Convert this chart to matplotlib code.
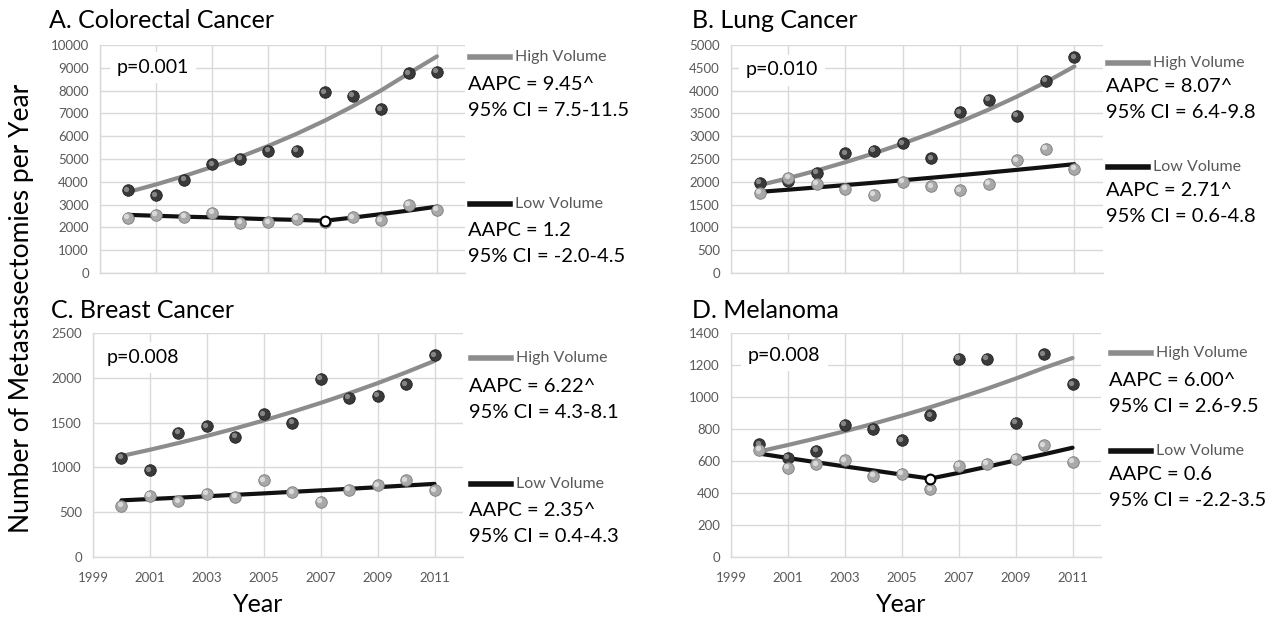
import matplotlib
matplotlib.use("Agg")
import matplotlib.pyplot as plt
import matplotlib.transforms as mtransforms
from matplotlib.lines import Line2D

plt.rcParams['font.family'] = ['Lato', 'DejaVu Sans']

W, H = 1266, 619

years = [2000, 2001, 2002, 2003, 2004, 2005, 2006, 2007, 2008, 2009, 2010, 2011]

# A. Colorectal
crc_high = [3620, 3400, 4090, 4770, 5020, 5360, 5360, 7930, 7780, 7180, 8760, 8820]
crc_low = [2410, 2550, 2450, 2630, 2190, 2220, 2380, 2250, 2440, 2310, 3000, 2770]
crc_high_fit = [3550, 3885, 4253, 4655, 5095, 5576, 6103, 6680, 7311, 8002, 8759, 9500]
crc_low_fit = [2550, 2510, 2470, 2440, 2400, 2360, 2330, 2290, 2430, 2580, 2740, 2910]
crc_joint = 2007

# B. Lung
lung_high = [1977, 2020, 2196, 2621, 2680, 2840, 2511, 3521, 3792, 3448, 4217, 4729]
lung_low = [1764, 2090, 1955, 1852, 1720, 2000, 1903, 1815, 1962, 2474, 2716, 2284]
lung_high_fit = [1925, 2080, 2248, 2430, 2626, 2838, 3067, 3315, 3582, 3871, 4184, 4530]
lung_low_fit = [1779, 1827, 1877, 1928, 1980, 2034, 2089, 2145, 2203, 2263, 2324, 2387]

# C. Breast
brc_high = [1105, 967, 1384, 1458, 1339, 1592, 1496, 1990, 1775, 1797, 1927, 2251]
brc_low = [569, 681, 621, 707, 670, 856, 722, 614, 751, 800, 856, 744]
brc_high_fit = [1127, 1197, 1272, 1351, 1435, 1524, 1619, 1720, 1827, 1940, 2061, 2189]
brc_low_fit = [632, 647, 662, 678, 694, 710, 727, 744, 761, 779, 798, 816]

# D. Melanoma
mel_high = [704, 619, 663, 827, 802, 729, 885, 1240, 1240, 840, 1267, 1079]
mel_low = [671, 558, 579, 604, 506, 521, 423, 569, 583, 615, 698, 594]
mel_high_fit = [660, 700, 742, 786, 833, 883, 936, 993, 1052, 1115, 1182, 1244]
mel_low_fit = [646, 619, 592, 566, 541, 515, 490, 526, 564, 604, 642, 683]
mel_joint = 2006

panels = [
    dict(title="A. Colorectal Cancer", box=(100, 45, 465, 273), ymax=10000, ystep=1000,
         high=crc_high, low=crc_low, hfit=crc_high_fit, lfit=crc_low_fit, joint=crc_joint,
         p="p=0.001", xlab=False,
         hi_txt=("AAPC = 9.45^", "95% CI = 7.5-11.5"), lo_txt=("AAPC = 1.2", "95% CI = -2.0-4.5"),
         ptxt=(117, 67), title_xy=(49, 21), leg_x=470, hi_y=(57, 84, 111), lo_y=(204, 231, 257)),
    dict(title="B. Lung Cancer", box=(731, 45, 1103, 273), ymax=5000, ystep=500,
         high=lung_high, low=lung_low, hfit=lung_high_fit, lfit=lung_low_fit, joint=None,
         p="p=0.010", xlab=False,
         hi_txt=("AAPC = 8.07^", "95% CI = 6.4-9.8"), lo_txt=("AAPC = 2.71^", "95% CI = 0.6-4.8"),
         ptxt=(746, 70), title_xy=(692, 21), leg_x=1108, hi_y=(63, 86, 112), lo_y=(167, 191, 217)),
    dict(title="C. Breast Cancer", box=(93, 333, 463, 557), ymax=2500, ystep=500,
         high=brc_high, low=brc_low, hfit=brc_high_fit, lfit=brc_low_fit, joint=None,
         p="p=0.008", xlab=True,
         hi_txt=("AAPC = 6.22^", "95% CI = 4.3-8.1"), lo_txt=("AAPC = 2.35^", "95% CI = 0.4-4.3"),
         ptxt=(107, 357), title_xy=(51, 311), leg_x=471, hi_y=(358, 386, 412), lo_y=(484, 510, 537)),
    dict(title="D. Melanoma", box=(731, 333, 1101, 557), ymax=1400, ystep=200,
         high=mel_high, low=mel_low, hfit=mel_high_fit, lfit=mel_low_fit, joint=mel_joint,
         p="p=0.008", xlab=True,
         hi_txt=("AAPC = 6.00^", "95% CI = 2.6-9.5"), lo_txt=("AAPC = 0.6", "95% CI = -2.2-3.5"),
         ptxt=(748, 355), title_xy=(692, 311), leg_x=1111, hi_y=(353, 380, 407), lo_y=(451, 474, 501)),
]

fig = plt.figure(figsize=(W / 100, H / 100), dpi=100)
fig.patch.set_facecolor('white')


def fx(x):
    return x / W


def fy(y):
    return 1 - y / H


grid_c = '#d9d9d9'
tick_c = '#595959'
hi_line = '#8c8c8c'
lo_line = '#111111'


def spheres(ax, xs, ys, base, light, edge):
    ax.plot(xs, ys, 'o', ms=8.3, mfc=base, mec=edge, mew=0.6, zorder=4)
    hl = mtransforms.offset_copy(ax.transData, fig=fig, x=-1.2, y=1.2, units='points')
    ax.plot(xs, ys, 'o', ms=3.8, mfc=light, mec='none', alpha=0.8, transform=hl, zorder=5)


for p in panels:
    x0, y0, x1, y1 = p['box']
    ax = fig.add_axes([fx(x0), fy(y1), fx(x1 - x0), (y1 - y0) / H])
    ax.set_xlim(1999, 2012)
    ax.set_ylim(0, p['ymax'])
    ax.set_yticks(range(0, p['ymax'] + 1, p['ystep']))
    ax.set_xticks(range(1999, 2012, 2))
    ax.grid(True, color=grid_c, lw=1)
    ax.set_axisbelow(True)
    for s in ['top', 'right']:
        ax.spines[s].set_visible(False)
    for s in ['left', 'bottom']:
        ax.spines[s].set_color(grid_c)
        ax.spines[s].set_linewidth(1)
    ax.tick_params(length=0, labelsize=9.5, colors=tick_c)
    ax.tick_params(axis='y', pad=8)
    ax.tick_params(axis='x', pad=11)
    if not p['xlab']:
        ax.set_xticklabels([])

    ax.plot(years, p['hfit'], color=hi_line, lw=3, solid_capstyle='round', zorder=3)
    ax.plot(years, p['lfit'], color=lo_line, lw=3, solid_capstyle='round', zorder=3)
    spheres(ax, years, p['high'], '#3a3a3a', '#9a9a9a', '#222222')
    spheres(ax, years, p['low'], '#a8a8a8', '#e6e6e6', '#7a7a7a')
    if p['joint'] is not None:
        j = years.index(p['joint'])
        ax.plot([p['joint']], [p['lfit'][j]], 'o', ms=7, mfc='white', mec='black', mew=1.5, zorder=6)

    # p value box
    px, py = p['ptxt']
    fig.text(fx(px), fy(py), p['p'], fontsize=14, va='center', ha='left', zorder=10,
             bbox=dict(facecolor='white', edgecolor='none', pad=5))

    # title
    tx, ty = p['title_xy']
    fig.text(fx(tx), fy(ty), p['title'], fontsize=18, va='center', ha='left')

    # legend-like annotations
    lx = p['leg_x']
    hy, hy2, hy3 = p['hi_y']
    ly, ly2, ly3 = p['lo_y']
    fig.add_artist(Line2D([fx(lx), fx(lx + 40)], [fy(hy), fy(hy)], color=hi_line, lw=4,
                          transform=fig.transFigure))
    fig.text(fx(lx + 45), fy(hy), "High Volume", fontsize=11.5, color=tick_c, va='center')
    fig.text(fx(lx - 2), fy(hy2), p['hi_txt'][0], fontsize=14.5, va='center')
    fig.text(fx(lx - 2), fy(hy3), p['hi_txt'][1], fontsize=14.5, va='center')
    fig.add_artist(Line2D([fx(lx), fx(lx + 40)], [fy(ly), fy(ly)], color=lo_line, lw=4,
                          transform=fig.transFigure))
    fig.text(fx(lx + 45), fy(ly), "Low Volume", fontsize=11.5, color=tick_c, va='center')
    fig.text(fx(lx - 2), fy(ly2), p['lo_txt'][0], fontsize=14.5, va='center')
    fig.text(fx(lx - 2), fy(ly3), p['lo_txt'][1], fontsize=14.5, va='center')

fig.text(fx(22), fy(308), "Number of Metastasectomies per Year", fontsize=19,
         rotation=90, va='center', ha='center')
fig.text(fx(258), fy(604), "Year", fontsize=18, va='center', ha='center')
fig.text(fx(901), fy(604), "Year", fontsize=18, va='center', ha='center')

fig.savefig('out.png', dpi=100)
